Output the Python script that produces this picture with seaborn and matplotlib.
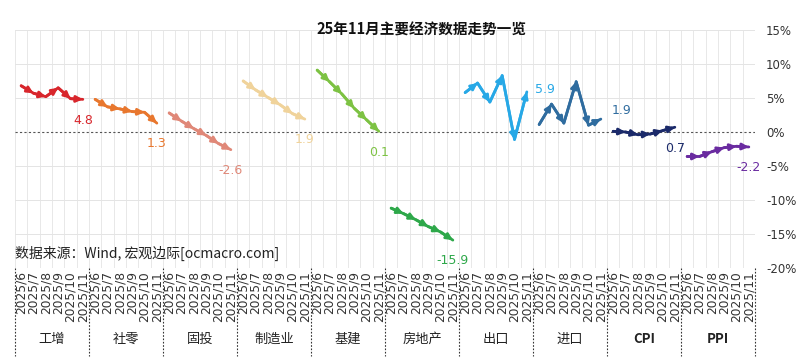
import numpy as np
import pandas as pd
import matplotlib
matplotlib.use("Agg")
import matplotlib.pyplot as plt
import matplotlib.transforms as mtransforms
import seaborn as sns

months = ["2025/6", "2025/7", "2025/8", "2025/9", "2025/10", "2025/11"]
groups = ["工增", "社零", "固投", "制造业", "基建", "房地产", "出口", "进口", "CPI", "PPI"]
v_gongzeng = [6.8, 5.7, 5.2, 6.5, 4.9, 4.8]
v_shelin = [4.8, 3.7, 3.4, 3.0, 2.9, 1.3]
v_gutou = [2.8, 1.6, 0.5, -0.5, -1.7, -2.6]
v_zhizao = [7.5, 6.2, 5.1, 4.0, 2.7, 1.9]
v_jijian = [9.1, 7.4, 5.6, 3.5, 1.8, 0.1]
v_fangdichan = [-11.2, -12.0, -12.9, -13.9, -14.7, -15.9]
v_chukou = [5.8, 7.2, 4.4, 8.3, -1.1, 5.9]
v_jinkou = [1.1, 4.1, 1.3, 7.4, 1.0, 1.9]
v_cpi = [0.1, 0.0, -0.4, -0.3, 0.2, 0.7]
v_ppi = [-3.6, -3.6, -2.9, -2.3, -2.1, -2.2]
series = [v_gongzeng, v_shelin, v_gutou, v_zhizao, v_jijian,
          v_fangdichan, v_chukou, v_jinkou, v_cpi, v_ppi]
colors = ["#d8262c", "#e8772e", "#e08878", "#f0d39b", "#7dc243",
          "#2ea84a", "#27a8e6", "#2f6c9f", "#1b2a6a", "#6a2ba0"]
# label offsets (points) relative to last point
label_offsets = [(0, -15), (0, -15), (0, -15), (0, -15), (0, -15),
                 (0, -15), (6, 2), (8, 6), (0, -15), (0, -15)]

rows = []
for gi, (g, vals) in enumerate(zip(groups, series)):
    for mi, (m, v) in enumerate(zip(months, vals)):
        rows.append({"group": g, "month": m, "pos": gi * len(months) + mi, "value": v})
df = pd.DataFrame(rows)

sns.set_theme(style="white")
plt.rcParams['font.family'] = ['Noto Sans CJK SC', 'DejaVu Sans']
plt.rcParams['axes.unicode_minus'] = False

fig = plt.figure(figsize=(8, 3.62), dpi=100)
ax = fig.add_axes([15/800, 1-268/362, 740/800, 238/362])

n = len(df)
ax.set_xlim(-0.5, n - 0.5)
ax.set_ylim(-20, 15)

# grid
for b in np.arange(-0.5, n, 1):
    ax.axvline(b, color="#e8e8e8", lw=0.7, zorder=0)
for yv in range(-20, 16, 5):
    if yv != 0:
        ax.axhline(yv, color="#e4e4e4", lw=0.7, zorder=0)
ax.axhline(0, color="#555555", lw=0.8, ls=(0, (2, 2)), zorder=1)

sns.lineplot(data=df, x="pos", y="value", hue="group", palette=colors,
             hue_order=groups, lw=2.0, legend=False, ax=ax, zorder=3)

for gi, g in enumerate(groups):
    sub = df[df.group == g]
    xs = sub.pos.values
    ys = sub.value.values
    c = colors[gi]
    for i in range(1, len(xs)):
        ax.annotate("", xy=(xs[i], ys[i]), xytext=(xs[i-1], ys[i-1]),
                    arrowprops=dict(arrowstyle="-|>", color=c, lw=2.0,
                                    mutation_scale=9, shrinkA=0, shrinkB=0),
                    zorder=4)
    dx, dy = label_offsets[gi]
    ax.annotate(f"{ys[-1]:.1f}", xy=(xs[-1], ys[-1]), xytext=(dx, dy),
                textcoords="offset points", ha="center" if dx == 0 else "left",
                va="center", color=c, fontsize=9, family="DejaVu Sans")

# y axis on right
ax.yaxis.tick_right()
ax.set_yticks(range(-20, 16, 5))
ax.set_yticklabels([f"{v}%" for v in range(-20, 16, 5)], fontsize=8.5,
                   family="DejaVu Sans", color="#333333")
ax.tick_params(axis="y", length=0, pad=8)
ax.set_ylabel("")
ax.set_xlabel("")
for s in ax.spines.values():
    s.set_visible(False)

ax.set_xticks(df.pos.values)
ax.set_xticklabels(df.month.values, rotation=90, fontsize=8.8, family="DejaVu Sans",
                   color="#333333", va="top")
ax.tick_params(axis="x", length=0, pad=2)

trans = mtransforms.blended_transform_factory(ax.transData, ax.transAxes)
for gi in range(len(groups) + 1):
    xb = gi * len(months) - 0.5
    ax.plot([xb, xb], [0, -0.37], transform=trans, color="#333333", lw=0.8,
            ls=(0, (1.5, 1.5)), clip_on=False)
for gi, g in enumerate(groups):
    xc = gi * len(months) + (len(months) - 1) / 2
    ax.text(xc, -0.30, g, transform=trans, ha="center", va="center", fontsize=9.5,
            color="#222222", fontweight="bold" if g in ("CPI", "PPI") else "normal")

fig.text(0.527, 1 - 30/362, "25年11月主要经济数据走势一览", ha="center", va="center",
         fontsize=10.5, fontweight="bold", color="#111111")
fig.text(15/800, 1 - 253/362, "数据来源：Wind, 宏观边际[ocmacro.com]", ha="left",
         va="center", fontsize=10, color="#222222")

fig.savefig("out.png", dpi=100, facecolor="white")
